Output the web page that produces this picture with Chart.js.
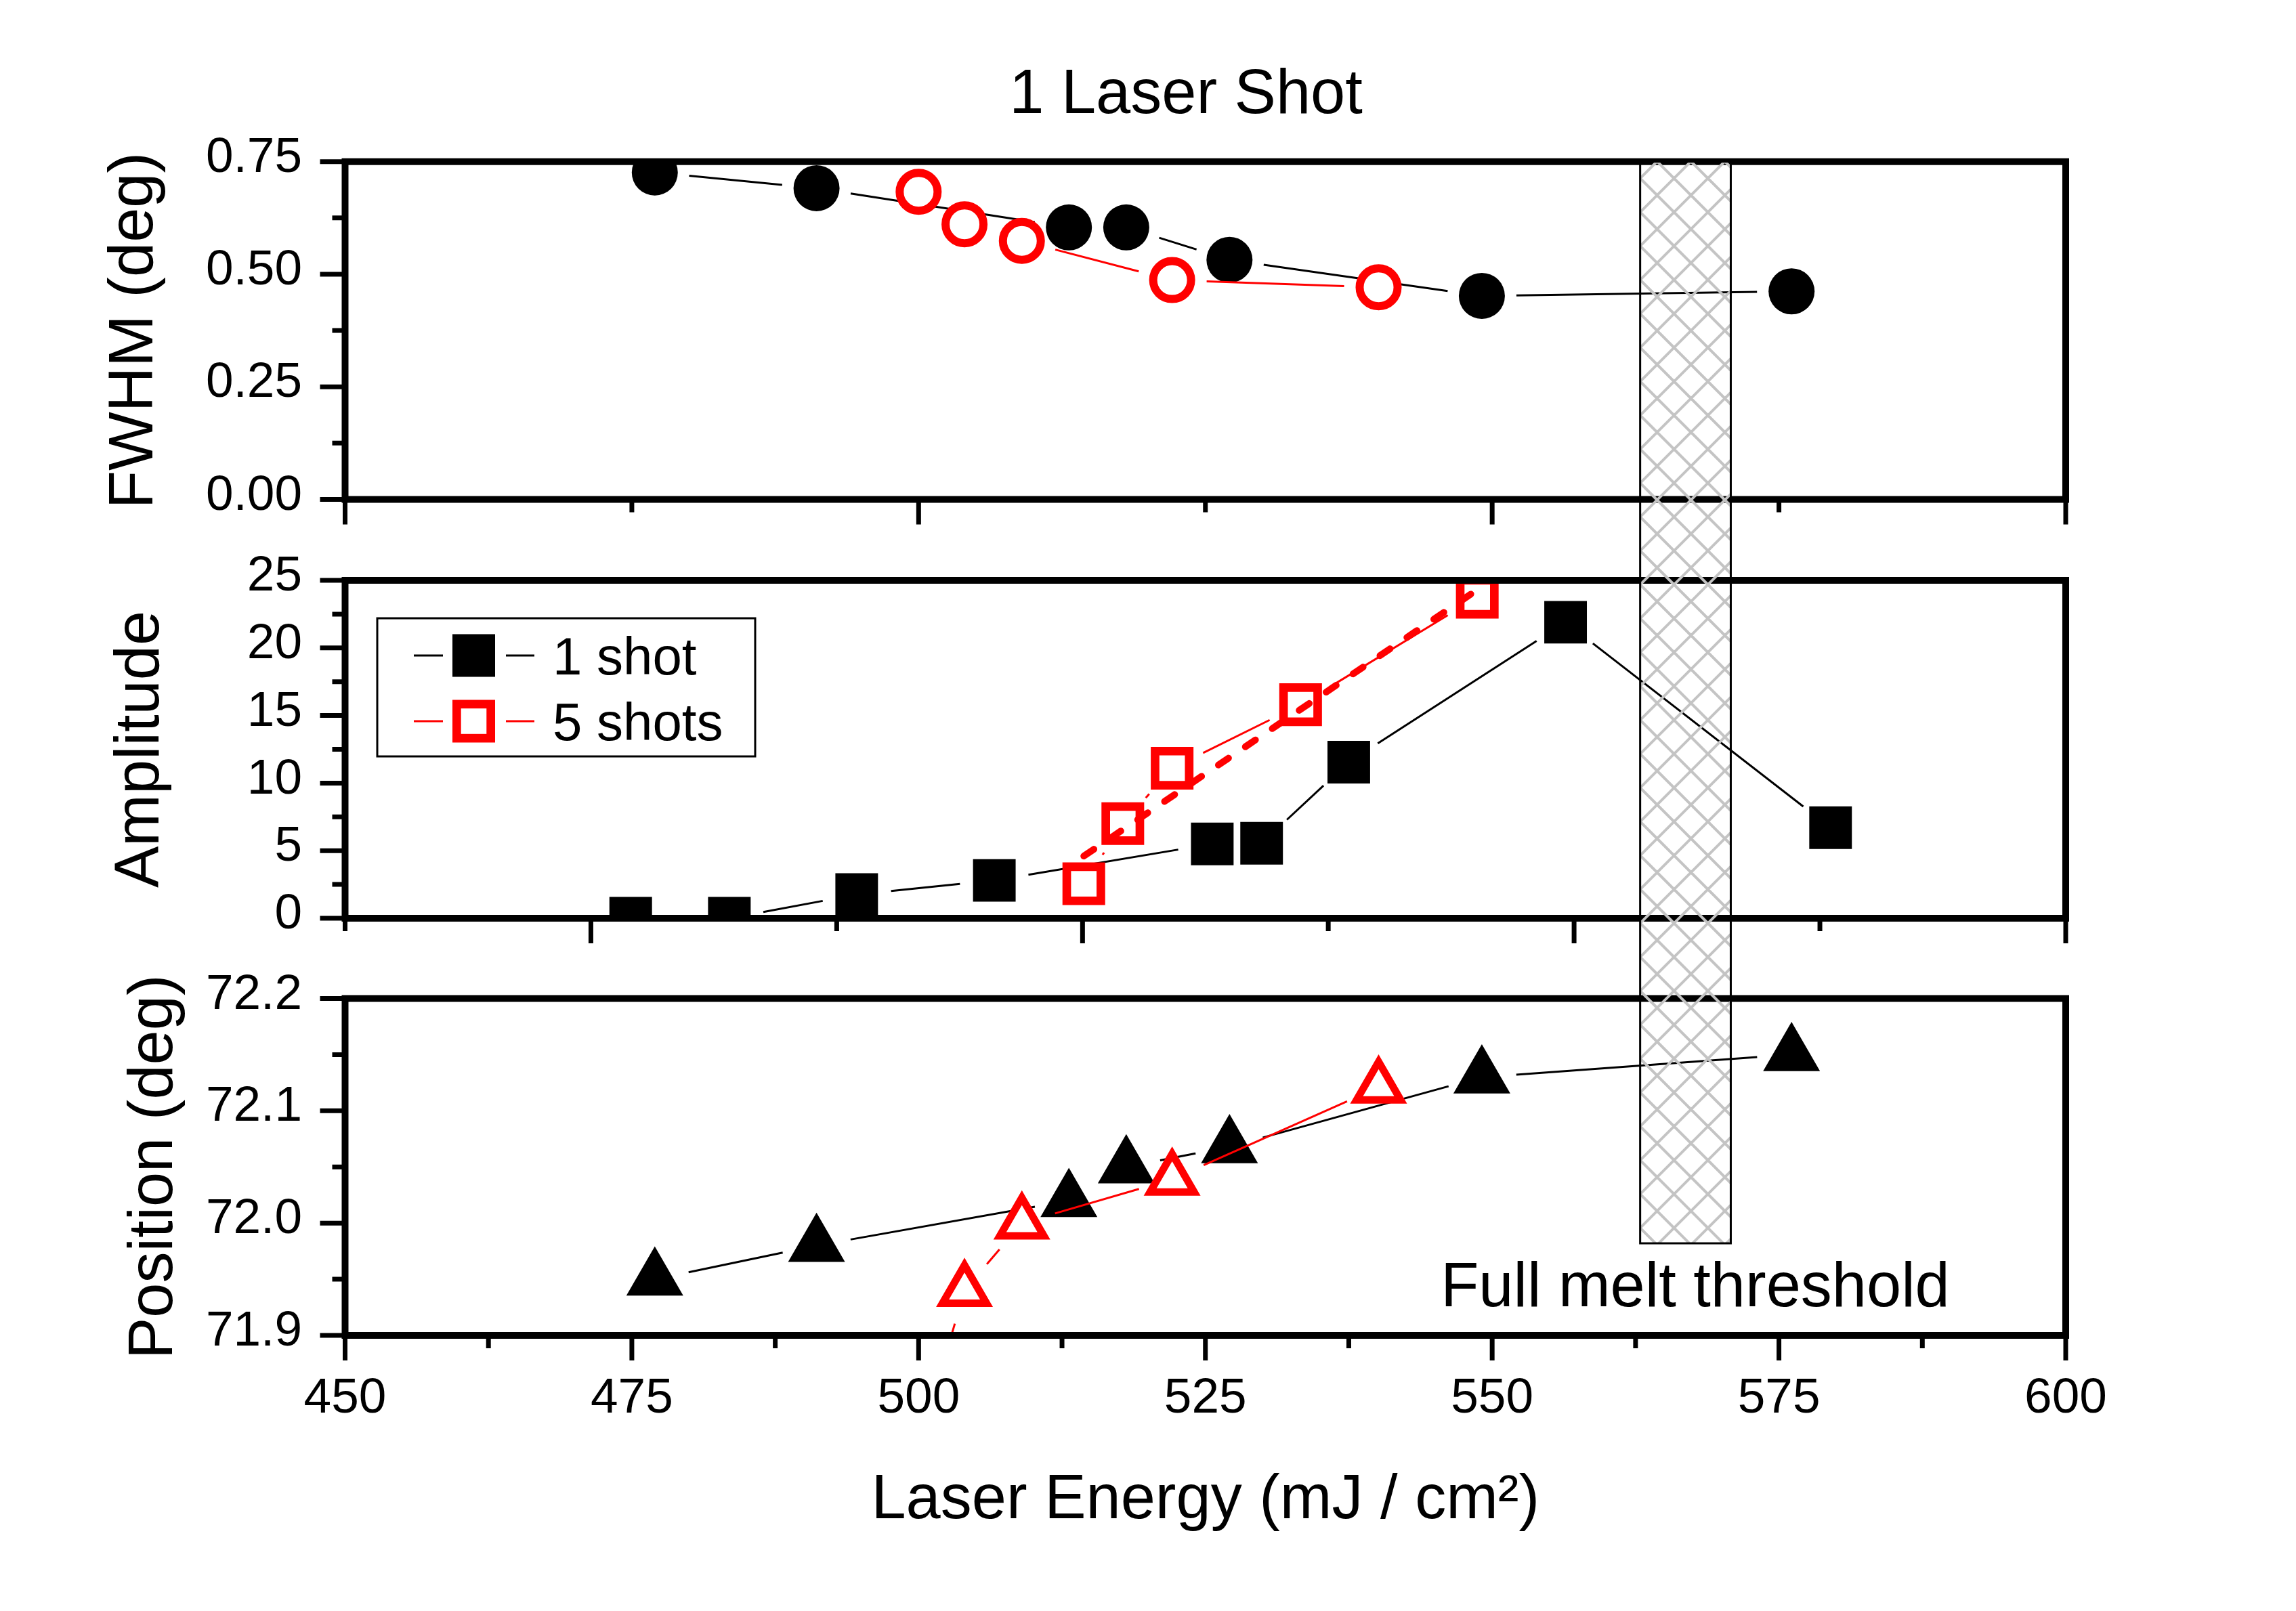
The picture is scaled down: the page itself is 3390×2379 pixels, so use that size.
<!DOCTYPE html>
<html>
<head>
<meta charset="utf-8">
<script src="https://cdn.jsdelivr.net/npm/chart.js@4/dist/chart.umd.min.js"></script>
<style>
html,body{margin:0;padding:0;background:#fff;overflow:hidden;}
#wrap{position:relative;width:3390px;height:2379px;background:#fff;}
#wrap canvas{position:absolute;left:0;top:0;}
</style>
</head>
<body>
<div id="wrap">
<canvas id="cFwhm" width="3390" height="2379"></canvas>
<canvas id="cAmp" width="3390" height="2379"></canvas>
<canvas id="cPos" width="3390" height="2379"></canvas>
</div>
<script>
// ---------------- data ----------------
const energy1Shot   = [477.0, 491.1, 513.1, 518.1, 527.1, 549.1, 576.1];
const energy5Shots  = [500.0, 504.0, 509.0, 522.1, 540.1];
const fwhm1Shot     = [0.726, 0.691, 0.604, 0.604, 0.532, 0.452, 0.462];
const fwhm5Shots    = [0.683, 0.611, 0.574, 0.487, 0.471];
const pos1Shot      = [71.950, 71.980, 72.020, 72.050, 72.068, 72.130, 72.150];
const pos5Shots     = [71.800, 71.940, 72.000, 72.039, 72.121];

const ampEnergy1Shot  = [474.9, 483.5, 494.6, 506.6, 525.6, 529.9, 537.5, 556.4, 579.5];
const amp1Shot        = [0.0, 0.0, 1.75, 2.8, 5.5, 5.55, 11.55, 21.9, 6.7];
const ampEnergy5Shots = [514.4, 517.8, 522.1, 533.3, 548.7];
const amp5Shots       = [2.55, 7.0, 11.1, 15.8, 23.75];
const ampFitEnergy    = [514.4, 548.7];
const ampFit          = [4.6, 24.3];

const meltBandEnergy  = [562.9, 570.8];
const meltBandBottom  = 71.982;

// ticks
const xTicks        = [450, 475, 500, 525, 550, 575, 600];
const xTickLabels   = ['450', '475', '500', '525', '550', '575', '600'];
const xMinorBottom  = [462.5, 487.5, 512.5, 537.5, 562.5, 587.5];
const xMajorTop     = [450, 500, 550, 600];
const xMinorTop     = [475, 525, 575];
const xMajorMid     = [471.43, 514.29, 557.14, 600];
const xMinorMid     = [450, 492.86, 535.71, 578.57];
const fwhmTicks     = [0, 0.25, 0.5, 0.75];
const fwhmTickLabels= ['0.00', '0.25', '0.50', '0.75'];
const fwhmMinor     = [0.125, 0.375, 0.625];
const ampTicks      = [0, 5, 10, 15, 20, 25];
const ampTickLabels = ['0', '5', '10', '15', '20', '25'];
const ampMinor      = [2.5, 7.5, 12.5, 17.5, 22.5];
const posTicks      = [71.9, 72.0, 72.1, 72.2];
const posTickLabels = ['71.9', '72.0', '72.1', '72.2'];
const posMinor      = [71.95, 72.05, 72.15];

const legendItems = [
  {label: '1 shot',  color: '#000000', filled: true},
  {label: '5 shots', color: '#ff0000', filled: false}
];

// ---------------- layout / style ----------------
const FONT = "'Liberation Sans', Arial, Helvetica, sans-serif";
const W = 3390, H = 2379;
const PLOT_LEFT = 509.5, PLOT_RIGHT = 3050;
const PANELS = {
  fwhm: [238.7, 737.5],
  amp:  [857.0, 1356.0],
  pos:  [1474.5, 1972.0]
};
const RED = '#ff0000';
const GAP = 51;

function gapDash(c) {
  const p0 = c.p0, p1 = c.p1;
  const L = Math.hypot(p1.x - p0.x, p1.y - p0.y);
  const vis = L - 2 * GAP;
  if (vis <= 0) return [0, L + 200];
  return [0, GAP, vis, L + 200];
}

function pts(xs, ys) { return xs.map((x, i) => ({x: x, y: ys[i]})); }

function yAxis(min, max, ticks, labels, title, titlePad) {
  return {
    type: 'linear', min: min, max: max,
    afterBuildTicks: s => { s.ticks = ticks.map(v => ({value: v})); },
    afterFit: s => { s.width = PLOT_LEFT; },
    grid: {display: false, drawTicks: false},
    border: {display: false},
    ticks: {
      callback: (v, i) => labels[i],
      font: {family: FONT, size: 73}, color: '#000',
      padding: 63.5, labelOffset: -5, autoSkip: false, maxRotation: 0
    },
    title: {display: true, text: title, color: '#000',
      font: {family: FONT, size: 92}, padding: {top: titlePad, bottom: 0}}
  };
}

function hiddenX() {
  return {type: 'linear', min: 450, max: 600, display: false};
}

const framePlugin = {
  id: 'panelFrame',
  afterDatasetsDraw(chart, args, o) {
    const {ctx, chartArea: a, scales: {x, y}} = chart;
    ctx.save();
    ctx.strokeStyle = '#000';
    ctx.lineCap = 'butt';
    ctx.lineWidth = 7;
    ctx.beginPath();
    o.yMajor.forEach(v => { const p = y.getPixelForValue(v); ctx.moveTo(a.left - 37, p); ctx.lineTo(a.left, p); });
    o.yMinor.forEach(v => { const p = y.getPixelForValue(v); ctx.moveTo(a.left - 19, p); ctx.lineTo(a.left, p); });
    o.xMajor.forEach(v => { const p = x.getPixelForValue(v); ctx.moveTo(p, a.bottom); ctx.lineTo(p, a.bottom + 37); });
    o.xMinor.forEach(v => { const p = x.getPixelForValue(v); ctx.moveTo(p, a.bottom); ctx.lineTo(p, a.bottom + 19); });
    ctx.stroke();
    ctx.lineWidth = 10;
    ctx.lineJoin = 'miter';
    ctx.strokeRect(a.left, a.top, a.right - a.left, a.bottom - a.top);
    ctx.restore();
  }
};

const titlePlugin = {
  id: 'mainTitle',
  afterDraw(chart, args, o) {
    const ctx = chart.ctx;
    ctx.save();
    ctx.fillStyle = '#000';
    ctx.font = '92px ' + FONT;
    ctx.textAlign = 'center';
    ctx.textBaseline = 'alphabetic';
    ctx.fillText(o.text, o.x, o.y);
    ctx.restore();
  }
};

const legendPlugin = {
  id: 'shotLegend',
  afterDraw(chart, args, o) {
    const ctx = chart.ctx;
    ctx.save();
    ctx.fillStyle = '#fff';
    ctx.fillRect(557, 913, 558, 204);
    ctx.strokeStyle = '#000';
    ctx.lineWidth = 3;
    ctx.strokeRect(557, 913, 558, 204);
    const rows = [968, 1065];
    legendItems.forEach((it, i) => {
      const cy = rows[i];
      ctx.strokeStyle = it.color;
      ctx.lineWidth = 3;
      ctx.beginPath();
      ctx.moveTo(611, cy); ctx.lineTo(654, cy);
      ctx.moveTo(747, cy); ctx.lineTo(789, cy);
      ctx.stroke();
      if (it.filled) {
        ctx.fillStyle = it.color;
        ctx.fillRect(699.5 - 31.5, cy - 31.5, 63, 63);
      } else {
        ctx.fillStyle = '#fff';
        ctx.fillRect(699.5 - 31.5, cy - 31.5, 63, 63);
        ctx.strokeStyle = it.color;
        ctx.lineWidth = 12.7;
        ctx.strokeRect(699.5 - 31.5 + 6.35, cy - 31.5 + 6.35, 63 - 12.7, 63 - 12.7);
      }
      ctx.fillStyle = '#000';
      ctx.font = '78px ' + FONT;
      ctx.textAlign = 'left';
      ctx.textBaseline = 'alphabetic';
      ctx.fillText(it.label, 816, cy + 28);
    });
    ctx.restore();
  }
};

const meltPlugin = {
  id: 'meltBand',
  afterDraw(chart) {
    const {ctx, scales: {x, y}} = chart;
    const top = PANELS.fwhm[0];
    const left = x.getPixelForValue(meltBandEnergy[0]);
    const right = x.getPixelForValue(meltBandEnergy[1]);
    const bottom = y.getPixelForValue(meltBandBottom);
    ctx.save();
    ctx.beginPath();
    ctx.rect(left, top, right - left, bottom - top);
    ctx.clip();
    ctx.strokeStyle = '#c4c4c4';
    ctx.lineWidth = 4;
    ctx.beginPath();
    const step = 50;
    const k0 = Math.floor((left + top) / step) - 2, k1 = Math.ceil((right + bottom) / step) + 2;
    for (let k = k0; k <= k1; k++) {
      const c = k * step + 35;
      ctx.moveTo(left - 5, c - (left - 5)); ctx.lineTo(right + 5, c - (right + 5));
    }
    const m0 = Math.floor((left - bottom) / step) - 2, m1 = Math.ceil((right - top) / step) + 2;
    for (let k = m0; k <= m1; k++) {
      const c = k * step + 8.3;
      ctx.moveTo(left - 5, (left - 5) - c); ctx.lineTo(right + 5, (right + 5) - c);
    }
    ctx.stroke();
    ctx.restore();
    ctx.save();
    ctx.strokeStyle = '#000';
    ctx.lineWidth = 3;
    ctx.strokeRect(left, top, right - left, bottom - top);
    ctx.fillStyle = '#000';
    ctx.font = '92px ' + FONT;
    ctx.textAlign = 'center';
    ctx.textBaseline = 'alphabetic';
    ctx.fillText('Full melt threshold', x.getPixelForValue(567.7), y.getPixelForValue(71.926));
    ctx.restore();
  }
};

function baseOptions(panel, extra) {
  return Object.assign({
    responsive: false,
    maintainAspectRatio: false,
    animation: false,
    devicePixelRatio: 1,
    events: [],
    layout: {padding: {left: 0, right: W - PLOT_RIGHT, top: panel[0], bottom: H - panel[1]}},
    elements: {line: {tension: 0}}
  }, extra);
}

function lineSet(data, color, order, point) {
  return Object.assign({
    data: data,
    borderColor: color,
    borderWidth: 3,
    fill: false,
    order: order,
    segment: {borderDash: gapDash},
    pointBorderColor: color
  }, point);
}

// ---------------- top panel : FWHM ----------------
new Chart(document.getElementById('cFwhm'), {
  type: 'line',
  data: {datasets: [
    lineSet(pts(energy5Shots, fwhm5Shots), RED, 1,
      {pointStyle: 'circle', pointRadius: 28, pointHoverRadius: 28, pointBorderWidth: 12, pointBackgroundColor: '#fff'}),
    lineSet(pts(energy1Shot, fwhm1Shot), '#000', 2,
      {pointStyle: 'circle', pointRadius: 34, pointHoverRadius: 34, pointBorderWidth: 0, pointBackgroundColor: '#000'})
  ]},
  options: baseOptions(PANELS.fwhm, {
    scales: {x: hiddenX(), y: yAxis(0, 0.75, fwhmTicks, fwhmTickLabels, 'FWHM (deg)', 144.9)},
    plugins: {
      legend: {display: false}, tooltip: {enabled: false},
      panelFrame: {xMajor: xMajorTop, xMinor: xMinorTop, yMajor: fwhmTicks, yMinor: fwhmMinor},
      mainTitle: {text: '1 Laser Shot', x: 1751, y: 166.5}
    }
  }),
  plugins: [framePlugin, titlePlugin]
});

// ---------------- middle panel : Amplitude ----------------
new Chart(document.getElementById('cAmp'), {
  type: 'line',
  data: {datasets: [
    {data: pts(ampFitEnergy, ampFit), borderColor: RED, borderWidth: 10, borderDash: [18, 30],
     borderCapStyle: 'round', pointRadius: 0, pointHoverRadius: 0, fill: false, order: 0},
    lineSet(pts(ampEnergy5Shots, amp5Shots), RED, 1,
      {pointStyle: 'rect', pointRadius: 35.6, pointHoverRadius: 35.6, pointBorderWidth: 12.7, pointBackgroundColor: '#fff'}),
    lineSet(pts(ampEnergy1Shot, amp1Shot), '#000', 2,
      {pointStyle: 'rect', pointRadius: 44.5, pointHoverRadius: 44.5, pointBorderWidth: 0, pointBackgroundColor: '#000'})
  ]},
  options: baseOptions(PANELS.amp, {
    scales: {x: hiddenX(), y: yAxis(0, 25, ampTicks, ampTickLabels, 'Amplitude', 153.9)},
    plugins: {
      legend: {display: false}, tooltip: {enabled: false},
      panelFrame: {xMajor: xMajorMid, xMinor: xMinorMid, yMajor: ampTicks, yMinor: ampMinor}
    }
  }),
  plugins: [framePlugin, legendPlugin]
});

// ---------------- bottom panel : Position ----------------
new Chart(document.getElementById('cPos'), {
  type: 'line',
  data: {datasets: [
    lineSet(pts(energy5Shots, pos5Shots), RED, 1,
      {pointStyle: 'triangle', pointRadius: 37.5, pointHoverRadius: 37.5, pointBorderWidth: 11, pointBackgroundColor: '#fff'}),
    lineSet(pts(energy1Shot, pos1Shot), '#000', 2,
      {pointStyle: 'triangle', pointRadius: 48.5, pointHoverRadius: 48.5, pointBorderWidth: 0, pointBackgroundColor: '#000'})
  ]},
  options: baseOptions(PANELS.pos, {
    layout: {padding: {left: 0, right: W - PLOT_RIGHT, top: PANELS.pos[0], bottom: 0}},
    scales: {
      x: {
        type: 'linear', min: 450, max: 600,
        afterBuildTicks: s => { s.ticks = xTicks.map(v => ({value: v})); },
        afterFit: s => { s.height = H - PANELS.pos[1]; },
        grid: {display: false, drawTicks: false},
        border: {display: false},
        ticks: {callback: (v, i) => xTickLabels[i], font: {family: FONT, size: 73}, color: '#000',
                padding: 50, autoSkip: false, maxRotation: 0, minRotation: 0},
        title: {display: true, text: 'Laser Energy (mJ / cm²)', color: '#000',
                font: {family: FONT, size: 92}, padding: {top: 0, bottom: 106.8}}
      },
      y: yAxis(71.9, 72.2, posTicks, posTickLabels, 'Position (deg)', 173.8)
    },
    plugins: {
      legend: {display: false}, tooltip: {enabled: false},
      panelFrame: {xMajor: xTicks, xMinor: xMinorBottom, yMajor: posTicks, yMinor: posMinor}
    }
  }),
  plugins: [framePlugin, meltPlugin]
});
</script>
</body>
</html>
